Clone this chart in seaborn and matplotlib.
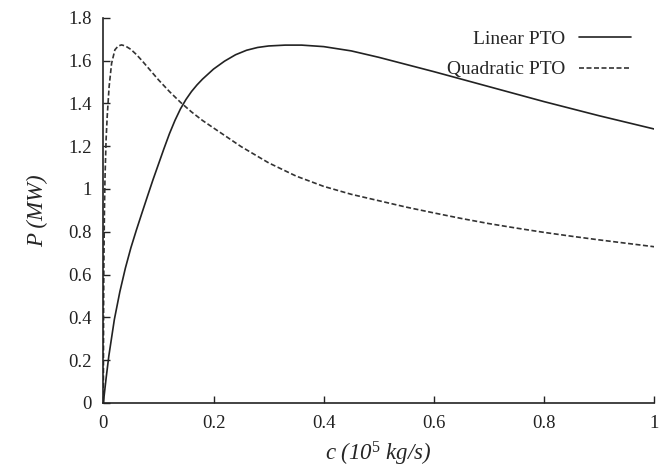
import numpy as np
import pandas as pd
import matplotlib
matplotlib.use("Agg")
import matplotlib.pyplot as plt
import seaborn as sns

# damping coefficient c (1e5 kg/s) and absorbed power P (MW)
c_lin = [0, 0.005, 0.01, 0.02, 0.03, 0.04, 0.05, 0.06, 0.07, 0.08, 0.09, 0.10,
         0.11, 0.12, 0.13, 0.14, 0.15, 0.16, 0.17, 0.18, 0.20, 0.22, 0.24, 0.26,
         0.28, 0.30, 0.33, 0.36, 0.40, 0.45, 0.5, 0.6, 0.7, 0.8, 0.9, 1.0]
p_lin = [0, 0.115, 0.22, 0.39, 0.52, 0.63, 0.725, 0.808, 0.887, 0.965, 1.042, 1.115,
         1.188, 1.258, 1.32, 1.374, 1.418, 1.455, 1.486, 1.513, 1.56, 1.597, 1.627, 1.648,
         1.661, 1.668, 1.672, 1.672, 1.665, 1.645, 1.615, 1.548, 1.478, 1.408, 1.342, 1.28]

c_quad = [0, 0.0005, 0.001, 0.002, 0.003, 0.005, 0.007, 0.0105, 0.015, 0.021,
          0.027, 0.033, 0.04, 0.05, 0.06, 0.07, 0.08, 0.09, 0.10, 0.12,
          0.14, 0.16, 0.18, 0.2, 0.25, 0.3, 0.35, 0.4, 0.45, 0.5,
          0.55, 0.6, 0.65, 0.7, 0.75, 0.8, 0.85, 0.9, 0.95, 1.0]
p_quad = [0, 0.45, 0.65, 0.9, 1.05, 1.23, 1.338, 1.478, 1.587, 1.65,
          1.668, 1.673, 1.668, 1.652, 1.628, 1.60, 1.57, 1.54, 1.51, 1.455,
          1.405, 1.36, 1.32, 1.285, 1.198, 1.122, 1.06, 1.012, 0.975, 0.945,
          0.915, 0.888, 0.862, 0.838, 0.817, 0.797, 0.779, 0.762, 0.746, 0.73]

labels = ["Linear PTO", "Quadratic PTO"]
x_ticks = [0, 0.2, 0.4, 0.6, 0.8, 1]
y_ticks = [0, 0.2, 0.4, 0.6, 0.8, 1, 1.2, 1.4, 1.6, 1.8]

sns.set_style("ticks")
plt.rcParams['font.family'] = ['Liberation Serif', 'DejaVu Serif']
plt.rcParams['mathtext.fontset'] = 'custom'
plt.rcParams['mathtext.rm'] = 'Liberation Serif'
plt.rcParams['mathtext.it'] = 'Liberation Serif:italic'

df = pd.concat([
    pd.DataFrame({'c': c_lin, 'P': p_lin, 'PTO': labels[0]}),
    pd.DataFrame({'c': c_quad, 'P': p_quad, 'PTO': labels[1]}),
])

fig = plt.figure(figsize=(6.71, 4.70), dpi=100)
ax = fig.add_axes([0.154, 0.1426, 0.821, 0.8197])

sns.lineplot(data=df[df.PTO == labels[0]], x='c', y='P', ax=ax, color='#222222',
             linewidth=1.2, sort=False, label=labels[0])
sns.lineplot(data=df[df.PTO == labels[1]], x='c', y='P', ax=ax, color='#333333',
             linewidth=1.2, sort=False, label=labels[1])
ax.lines[1].set_dashes([3, 1.5])

ax.set_xlim(0, 1)
ax.set_ylim(0, 1.8)
ax.set_xticks(x_ticks)
ax.set_yticks(y_ticks)
ax.set_xticklabels([f'{v:g}' for v in x_ticks])
ax.set_yticklabels([f'{v:g}' for v in y_ticks])
ax.tick_params(direction='in', length=5, width=1, labelsize=13.5, colors='#222222')
ax.tick_params(axis='x', pad=9)
ax.tick_params(axis='y', pad=8.5)
for s in ['top', 'right']:
    ax.spines[s].set_visible(False)
for s in ['left', 'bottom']:
    ax.spines[s].set_linewidth(1.2)
    ax.spines[s].set_color('#222222')

ax.set_xlabel(r'c (10$^{\mathit{5}}$ kg/s)', fontsize=16.5, fontstyle='italic', labelpad=5)
ax.set_ylabel('P (MW)', fontsize=16.5, fontstyle='italic', labelpad=14)

leg = ax.legend(loc='upper right', bbox_to_anchor=(0.99, 1.012), frameon=False,
                markerfirst=False, fontsize=14, handlelength=2.7, handletextpad=0.7,
                labelspacing=0.65)
leg.get_lines()[1].set_dashes([3, 1.5])

fig.savefig('out.png', dpi=100)
